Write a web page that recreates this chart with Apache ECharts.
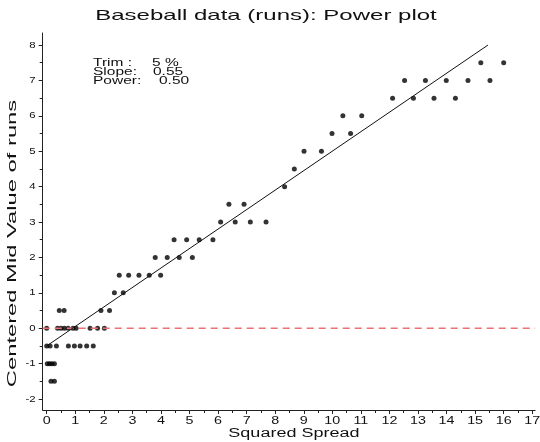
<!DOCTYPE html>
<html>
<head>
<meta charset="utf-8">
<script src="https://cdn.jsdelivr.net/npm/echarts@6/dist/echarts.min.js"></script>
<style>
  html, body { margin: 0; padding: 0; background: #fff; }
  #chart { width: 540px; height: 442px; }
</style>
</head>
<body>
<div id="chart"></div>
<script>
// Squared spread (x) and centered mid value (y) for each letter-value pair
const squaredSpread = [
  15.2, 16.0,
  12.53, 13.26, 13.99, 14.75, 15.52,
  12.11, 12.84, 13.56, 14.31,
  10.37, 11.03,
  9.99, 10.64,
  9.01, 9.62,
  8.67,
  8.33,
  6.38, 6.91,
  6.09, 6.60, 7.13, 7.68,
  4.46, 4.90, 5.34, 5.82,
  3.80, 4.22, 4.64, 5.10,
  2.54, 2.87, 3.23, 3.59, 3.99,
  2.37, 2.68,
  0.44, 0.61, 1.90, 2.20,
  0.0, 0.38, 0.50, 0.62, 0.75, 0.92, 1.03, 1.52, 1.78, 2.02,
  0.0, 0.12, 0.34, 0.76, 0.97, 1.17, 1.40, 1.63,
  0.02, 0.10, 0.18, 0.27,
  0.15, 0.27
];
const centeredMid = [
  7.5, 7.5,
  7, 7, 7, 7, 7,
  6.5, 6.5, 6.5, 6.5,
  6, 6,
  5.5, 5.5,
  5, 5,
  4.5,
  4,
  3.5, 3.5,
  3, 3, 3, 3,
  2.5, 2.5, 2.5, 2.5,
  2, 2, 2, 2,
  1.5, 1.5, 1.5, 1.5, 1.5,
  1, 1,
  0.5, 0.5, 0.5, 0.5,
  0, 0, 0, 0, 0, 0, 0, 0, 0, 0,
  -0.5, -0.5, -0.5, -0.5, -0.5, -0.5, -0.5, -0.5,
  -1, -1, -1, -1,
  -1.5, -1.5
];

// Fitted line end points (slope 0.55)
const fitX = [0.0, 15.45];
const fitY = [-0.5, 8.0];

// Zero reference line
const zeroX = [-0.14, 17.1];
const zeroY = [0, 0];

// Axis ticks and labels
const xTicks = [0,1,2,3,4,5,6,7,8,9,10,11,12,13,14,15,16,17];
const xMinorTicks = [0.5,1.5,2.5,3.5,4.5,5.5,6.5,7.5,8.5,9.5,10.5,11.5,12.5,13.5,14.5,15.5,16.5];
const yTicks = [-2,-1,0,1,2,3,4,5,6,7,8];
const yMinorTicks = [-1.5,-0.5,0.5,1.5,2.5,3.5,4.5,5.5,6.5,7.5];

const titleText = 'Baseball data (runs): Power plot';
const xName = 'Squared Spread';
const yName = 'Centered Mid Value of runs';
const statLabels = ['Trim :', 'Slope:', 'Power:'];
const statValues = ['5 %', '0.55', '0.50'];

const FONT = '"Liberation Sans", Arial, sans-serif';
const INK = '#111';
const AXIS_COLOR = '#222';
const X_MIN = -0.14, X_MAX = 17.1, Y_MIN = -2.31, Y_MAX = 8.34;
// Text in this plot uses a wide, extended sans face
const WIDE = 1.5;

const chart = echarts.init(document.getElementById('chart'), null, { renderer: 'canvas' });

function xAxisDef(ticks, len, showLine) {
  return {
    type: 'value', min: X_MIN, max: X_MAX, gridIndex: 0, position: 'bottom',
    axisLine: { show: showLine, onZero: false, lineStyle: { color: AXIS_COLOR, width: 1 } },
    axisTick: { show: true, customValues: ticks, length: len, lineStyle: { color: AXIS_COLOR } },
    axisLabel: { show: false },
    splitLine: { show: false }
  };
}
function yAxisDef(ticks, len, showLine) {
  return {
    type: 'value', min: Y_MIN, max: Y_MAX, gridIndex: 0, position: 'left',
    axisLine: { show: showLine, onZero: false, lineStyle: { color: AXIS_COLOR, width: 1 } },
    axisTick: { show: true, customValues: ticks, length: len, lineStyle: { color: AXIS_COLOR } },
    axisLabel: { show: false },
    splitLine: { show: false }
  };
}

const points = squaredSpread.map((x, i) => [x, centeredMid[i]]);

chart.setOption({
  animation: false,
  backgroundColor: '#fff',
  grid: { left: 42.7, top: 33, width: 492.4, height: 377, containLabel: false },
  xAxis: [xAxisDef(xTicks, 4, true), xAxisDef(xMinorTicks, 3, false)],
  yAxis: [yAxisDef(yTicks, 4, true), yAxisDef(yMinorTicks, 3, false)],
  series: [
    {
      type: 'line', xAxisIndex: 0, yAxisIndex: 0,
      data: zeroX.map((x, i) => [x, zeroY[i]]),
      showSymbol: false, silent: true,
      lineStyle: { color: '#ee7070', width: 1.5, type: [7, 5] }
    },
    {
      type: 'line', xAxisIndex: 0, yAxisIndex: 0,
      data: fitX.map((x, i) => [x, fitY[i]]),
      showSymbol: false, silent: true,
      lineStyle: { color: '#111', width: 1 }
    },
    {
      type: 'scatter', xAxisIndex: 0, yAxisIndex: 0,
      data: points, symbol: 'circle', symbolSize: 5,
      itemStyle: { color: '#000' }
    }
  ]
});

// Wide text helper: horizontally extended glyphs
function wideText(text, x, y, size, opts) {
  opts = opts || {};
  return {
    type: 'text', x: x, y: y,
    scaleX: opts.scaleX || WIDE, scaleY: 1,
    rotation: opts.rotation || 0,
    silent: true,
    style: {
      text: text, fontFamily: FONT, fontSize: size, fill: INK,
      align: opts.align || 'center', verticalAlign: 'middle'
    }
  };
}

const gx = v => chart.convertToPixel({ xAxisIndex: 0 }, v);
const gy = v => chart.convertToPixel({ yAxisIndex: 0 }, v);
const axisLeft = gx(X_MIN), axisBottom = gy(Y_MIN);
const gridMidX = (gx(X_MIN) + gx(X_MAX)) / 2;
const gridMidY = (gy(Y_MIN) + gy(Y_MAX)) / 2;

const labels = [];
labels.push(wideText(titleText, 266, 16, 15, { scaleX: 1.6 }));
xTicks.forEach(v => labels.push(wideText(String(v), gx(v), axisBottom + 11, 11, { scaleX: 1.3 })));
yTicks.forEach(v => labels.push(wideText(String(v), axisLeft - 7, gy(v), 9.5, { align: 'right', scaleX: 1.2 })));
labels.push(wideText(xName, gridMidX + 5, axisBottom + 24, 12, { scaleX: 1.5 }));
labels.push(wideText(yName, 13, gridMidY + 22, 12.5, { rotation: Math.PI / 2, scaleX: 1.9 }));
const valueOffsets = [59, 60, 66];
statLabels.forEach((s, i) => {
  labels.push(wideText(s, 93, 63 + i * 9.3, 10, { align: 'left', scaleX: 1.55 }));
  labels.push(wideText(statValues[i], 93 + valueOffsets[i], 63 + i * 9.3, 10, { align: 'left', scaleX: 1.55 }));
});

chart.setOption({ graphic: labels });
</script>
</body>
</html>
